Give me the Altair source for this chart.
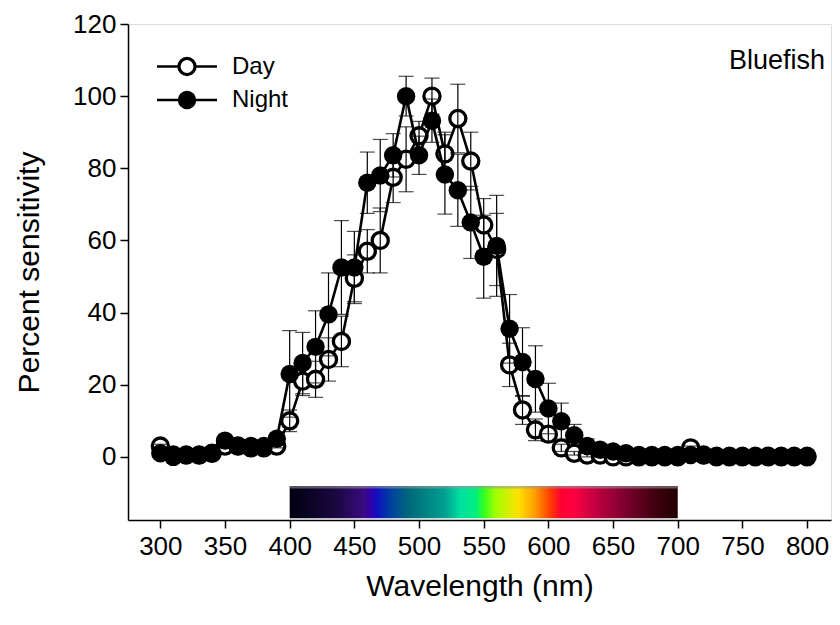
import altair as alt
import pandas as pd

wavelength = list(range(300, 810, 10))

day = [3, 0.5, 0.5, 0.5, 1, 3, 3, 2.5, 2.5, 3,
       10, 21, 21.5, 27, 32, 49.5, 57, 60, 77.5, 82.5,
       89, 100, 84, 93.8, 82, 64.3, 57.5, 25.5, 13, 7.5,
       6.3, 2.5, 1, 0.5, 0.5, 0, 0, 0, 0, 0,
       0, 2.5, 0.5, 0, 0, 0, 0, 0, 0, 0, 0]
day_err = [0.5] * 10 + [3, 4, 5, 6, 7, 6.5, 6, 9, 7, 9,
                        4, 5, 6, 9.5, 8, 7.3, 10, 6, 4, 3,
                        2, 1, 0.5, 0.5, 0.5, 0, 0, 0, 0, 0,
                        0, 0.5, 0, 0, 0, 0, 0, 0, 0, 0, 0]

night = [1, 0, 0.5, 0.5, 1, 4.5, 3, 3, 3, 5,
         23, 26, 30.5, 39.5, 52.5, 52.5, 76, 78, 83.6, 100,
         83.6, 93.2, 78.3, 73.9, 65, 55.5, 58.5, 35.5, 26.3, 21.6,
         13.4, 9.9, 6, 3, 2, 1.5, 1, 0.5, 0.5, 0.5,
         0.5, 0.5, 0.5, 0.3, 0.3, 0.3, 0.3, 0.3, 0.3, 0.3, 0.3]
night_err = [0.5] * 10 + [12, 8.5, 10, 11.5, 13, 10, 8.5, 10, 6, 5.5,
                          5.3, 6, 11, 10, 10, 11.5, 14, 9.5, 9.5, 9.2,
                          7, 5, 3, 2, 1, 0.5, 0, 0, 0, 0,
                          0, 0, 0, 0, 0, 0, 0, 0, 0, 0, 0]

x_ticks = list(range(300, 801, 50))
y_ticks = list(range(0, 121, 20))
legend_labels = ["Day", "Night"]
chart_title = "Bluefish"

spectrum_nm = [400, 700]
spectrum_y = [-8.1, -17]
spectrum_stops = [
    (0.00, "#000010"), (0.12, "#1a0840"), (0.19, "#3a0a80"), (0.21, "#3000b0"),
    (0.225, "#1010c0"), (0.26, "#0040a0"), (0.31, "#006a7a"), (0.40, "#00a090"),
    (0.44, "#00e0a0"), (0.48, "#00f080"), (0.50, "#30ff20"), (0.53, "#a0ff00"),
    (0.59, "#ffe000"), (0.63, "#ffa000"), (0.67, "#ff4000"), (0.70, "#ff0030"),
    (0.73, "#ff0040"), (0.79, "#c00040"), (0.86, "#800030"), (0.94, "#400010"),
    (1.00, "#200000"),
]

FONT = "Liberation Sans"

df = pd.DataFrame({
    "wl": wavelength * 2,
    "v": day + night,
    "lo": [a - b for a, b in zip(day, day_err)] + [a - b for a, b in zip(night, night_err)],
    "hi": [a + b for a, b in zip(day, day_err)] + [a + b for a, b in zip(night, night_err)],
    "series": ["Day"] * len(day) + ["Night"] * len(night),
})

xs = alt.Scale(domain=[275, 818.5], nice=False, zero=False)
ys = alt.Scale(domain=[-17.5, 120], nice=False, zero=False)

xenc = alt.X("wl:Q", scale=xs, axis=alt.Axis(
    values=x_ticks, title="Wavelength (nm)", grid=False, tickSize=8, tickWidth=1.5,
    tickColor="black", domainColor="black", domainWidth=1.5, labelFontSize=26,
    labelFont=FONT, labelColor="black", labelPadding=5, titleFontSize=30,
    titleFont=FONT, titleFontWeight="normal", titleColor="black", titlePadding=12,
    labelFlush=False, labelOverlap=False))
yenc = alt.Y("v:Q", scale=ys, axis=alt.Axis(
    values=y_ticks, title="Percent sensitivity", grid=False, tickSize=8, tickWidth=1.5,
    tickColor="black", domainColor="black", domainWidth=1.5, labelFontSize=26,
    labelFont=FONT, labelColor="black", labelPadding=4, titleFontSize=30,
    titleFont=FONT, titleFontWeight="normal", titleColor="black", titlePadding=28,
    labelFlush=False, labelOverlap=False))

spec_df = pd.DataFrame({"x1": [spectrum_nm[0]], "x2": [spectrum_nm[1]],
                        "y1": [spectrum_y[0]], "y2": [spectrum_y[1]]})
spectrum = alt.Chart(spec_df).mark_rect(
    color=alt.LinearGradient(gradient="linear", x1=0, x2=1, y1=0, y2=0,
                             stops=[alt.GradientStop(offset=o, color=c) for o, c in spectrum_stops])
).encode(x=alt.X("x1:Q", scale=xs), x2="x2:Q", y=alt.Y("y1:Q", scale=ys), y2="y2:Q")
spec_top = alt.Chart(spec_df).mark_rect(color="#999999", opacity=0.55).encode(
    x=alt.X("x1:Q", scale=xs), x2="x2:Q", y=alt.Y("y1:Q", scale=ys),
    y2=alt.value(464.5))

def series_layers(name, filled):
    d = df[df.series == name]
    base = alt.Chart(d)
    err = base.mark_rule(color="black", strokeWidth=1.2).encode(
        x=alt.X("wl:Q", scale=xs), y=alt.Y("lo:Q", scale=ys), y2="hi:Q")
    cap_lo = base.mark_tick(color="black", size=15, thickness=1.2, orient="horizontal").encode(
        x=alt.X("wl:Q", scale=xs), y=alt.Y("lo:Q", scale=ys))
    cap_hi = base.mark_tick(color="black", size=15, thickness=1.2, orient="horizontal").encode(
        x=alt.X("wl:Q", scale=xs), y=alt.Y("hi:Q", scale=ys))
    line = base.mark_line(color="black", strokeWidth=2.6).encode(x=xenc, y=yenc)
    if filled:
        pts = base.mark_point(shape="circle", filled=True, color="black", size=340, opacity=1).encode(
            x=alt.X("wl:Q", scale=xs), y=alt.Y("v:Q", scale=ys))
    else:
        pts = base.mark_point(shape="circle", filled=False, fill="white", fillOpacity=1,
                              stroke="black", strokeWidth=3.3, size=260, opacity=1).encode(
            x=alt.X("wl:Q", scale=xs), y=alt.Y("v:Q", scale=ys))
    return [line, pts, err, cap_lo, cap_hi]

# legend (in-plot, pixel positions)
leg_df = pd.DataFrame({"label": legend_labels, "yy": [42.5, 76], "f": [0, 1]})
leg_lines = alt.Chart(leg_df).mark_rule(color="black", strokeWidth=2.6).encode(
    x=alt.value(29), x2=alt.value(89), y=alt.Y("yy:Q", scale=None))
leg_day = alt.Chart(leg_df[leg_df.f == 0]).mark_point(
    shape="circle", filled=False, fill="white", fillOpacity=1, stroke="black",
    strokeWidth=3.3, size=260, opacity=1).encode(x=alt.value(59), y=alt.Y("yy:Q", scale=None))
leg_night = alt.Chart(leg_df[leg_df.f == 1]).mark_point(
    shape="circle", filled=True, color="black", size=340, opacity=1).encode(
    x=alt.value(59), y=alt.Y("yy:Q", scale=None))
leg_text = alt.Chart(leg_df).mark_text(
    align="left", baseline="middle", font=FONT, fontSize=24, color="black").encode(
    x=alt.value(104), y=alt.Y("yy:Q", scale=None), text="label:N")

title_df = pd.DataFrame({"t": [chart_title]})
title_txt = alt.Chart(title_df).mark_text(
    align="right", baseline="middle", font=FONT, fontSize=27, color="black").encode(
    x=alt.value(697), y=alt.value(37), text="t:N")

layers = [spectrum, spec_top] + series_layers("Day", False) + series_layers("Night", True) + \
         [leg_lines, leg_day, leg_night, leg_text, title_txt]

chart = alt.layer(*layers).properties(
    width=703, height=496,
    padding={"left": 120, "top": 16, "right": 1, "bottom": 90},
    autosize=alt.AutoSizeParams(type="none"),
).configure_view(stroke="black", strokeWidth=1.5).configure(background="white")

chart.save("out.html", embed_options={"renderer": "svg", "actions": False})
